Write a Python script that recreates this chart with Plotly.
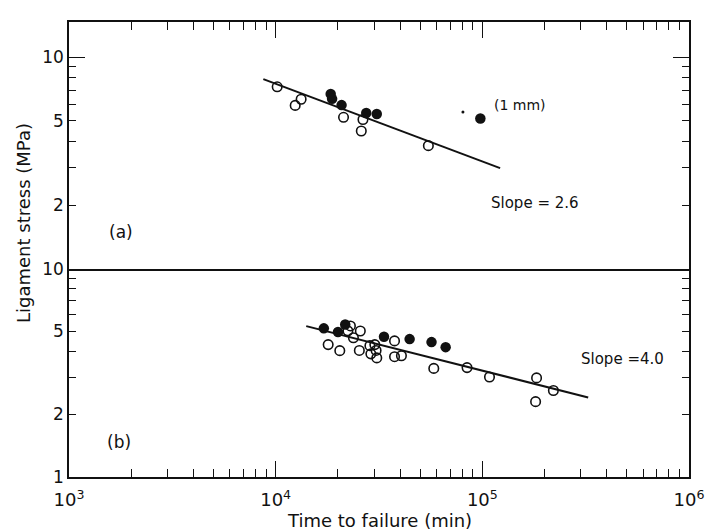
import numpy as np
import plotly.graph_objects as go

# ---------------- data ----------------
# Panel (a)
a_open_x = [10170, 12430, 13280, 21300, 26450, 25960, 54810]
a_open_y = [7.25, 5.92, 6.33, 5.20, 5.08, 4.48, 3.82]
a_fill_x = [18460, 18750, 20840, 27430, 30850, 97840]
a_fill_y = [6.71, 6.36, 5.94, 5.45, 5.39, 5.13]
a_stray_x = [80540]
a_stray_y = [5.51]
a_fit_x = [8715, 121900]
a_fit_y = [7.88, 2.99]

# Panel (b)
b_open_x = [23000, 22360, 25680, 23780, 17950, 20430, 25400, 28570, 30180, 28880,
            30610, 30850, 37600, 37600, 40600, 58220, 84330, 108300, 183000,
            181000, 220700]
b_open_y = [5.31, 5.03, 5.02, 4.66, 4.32, 4.04, 4.05, 4.27, 4.32, 3.90,
            4.05, 3.73, 4.50, 3.78, 3.82, 3.32, 3.35, 3.02, 2.99,
            2.30, 2.60]
b_fill_x = [17100, 20030, 21700, 33430, 44480, 56780, 66450]
b_fill_y = [5.17, 4.97, 5.40, 4.71, 4.59, 4.44, 4.20]
b_fit_x = [14060, 325200]
b_fit_y = [5.30, 2.41]

x_major = [1e3, 1e4, 1e5, 1e6]
x_major_text = ["10<sup>3</sup>", "10<sup>4</sup>", "10<sup>5</sup>", "10<sup>6</sup>"]
x_minor = [m * d for d in (1e3, 1e4, 1e5) for m in range(2, 10)]
yb_major = [1, 2, 5, 10]
yb_major_text = ["1", "2", "5", "10"]
ya_major = [2, 5, 10]
ya_major_text = ["2", "5", "10"]
y_minor = [3, 4, 6, 7, 8, 9]

FONT = "DejaVu Sans"
BLACK = "#111111"

fig = go.Figure()

def add_open(x, y, xa, ya):
    fig.add_trace(go.Scatter(x=x, y=y, xaxis=xa, yaxis=ya, mode="markers",
                             marker=dict(symbol="circle-open", size=9.5,
                                         color=BLACK, line=dict(width=1.6, color=BLACK)),
                             showlegend=False, hoverinfo="skip"))

def add_fill(x, y, xa, ya, size=10.5):
    fig.add_trace(go.Scatter(x=x, y=y, xaxis=xa, yaxis=ya, mode="markers",
                             marker=dict(symbol="circle", size=size, color=BLACK),
                             showlegend=False, hoverinfo="skip"))

def add_line(x, y, xa, ya):
    fig.add_trace(go.Scatter(x=x, y=y, xaxis=xa, yaxis=ya, mode="lines",
                             line=dict(color=BLACK, width=2),
                             showlegend=False, hoverinfo="skip"))

# panel (a) -> x2/y2
add_line(a_fit_x, a_fit_y, "x2", "y2")
add_open(a_open_x, a_open_y, "x2", "y2")
add_fill(a_fill_x, a_fill_y, "x2", "y2")
add_fill(a_stray_x, a_stray_y, "x2", "y2", size=3)
# hidden trace to carry the overlay axis for the long "10" tick
fig.add_trace(go.Scatter(x=a_fit_x, y=a_fit_y, xaxis="x2", yaxis="y3", mode="lines",
                         opacity=0, showlegend=False, hoverinfo="skip"))

# panel (b) -> x/y
add_line(b_fit_x, b_fit_y, "x", "y")
add_open(b_open_x, b_open_y, "x", "y")
add_fill(b_fill_x, b_fill_y, "x", "y")

split = 212 / 463

xcommon = dict(type="log", range=[3, 6], showgrid=False, zeroline=False,
               showline=True, linecolor=BLACK, linewidth=1.5,
               ticks="inside", ticklen=16, tickwidth=1.3, tickcolor=BLACK,
               tickmode="array", tickvals=x_major,
               minor=dict(tickmode="array", tickvals=x_minor, ticks="inside",
                          ticklen=8, tickwidth=1.2, tickcolor=BLACK, showgrid=False))

fig.update_layout(
    width=716, height=532,
    margin=dict(l=69, r=20, t=14, b=55),
    paper_bgcolor="white", plot_bgcolor="white",
    font=dict(family=FONT, color=BLACK, size=16),
    xaxis=dict(**xcommon, anchor="y", ticktext=x_major_text,
               tickfont=dict(size=18, family=FONT, color=BLACK), ticklabelstandoff=6),
    xaxis2=dict(**xcommon, anchor="y2", matches="x", side="top", mirror=True,
                showticklabels=False),
    yaxis=dict(type="log", range=[0, 1], domain=[0, split], anchor="x",
               showgrid=False, zeroline=False, showline=True, linecolor=BLACK,
               linewidth=1.5, mirror="ticks",
               ticks="inside", ticklen=7, tickwidth=1.3, tickcolor=BLACK,
               tickmode="array", tickvals=yb_major, ticktext=yb_major_text,
               tickfont=dict(size=17, family=FONT, color=BLACK),
               minor=dict(tickmode="array", tickvals=y_minor, ticks="inside",
                          ticklen=7, tickwidth=1.2, tickcolor=BLACK, showgrid=False)),
    yaxis2=dict(type="log", range=[0, 1.167], domain=[split, 1], anchor="x2",
                showgrid=False, zeroline=False, showline=True, linecolor=BLACK,
                linewidth=1.5, mirror="ticks",
                ticks="inside", ticklen=7, tickwidth=1.3, tickcolor=BLACK,
                tickmode="array", tickvals=ya_major, ticktext=ya_major_text,
                tickfont=dict(size=17, family=FONT, color=BLACK),
                minor=dict(tickmode="array", tickvals=y_minor, ticks="inside",
                           ticklen=7, tickwidth=1.2, tickcolor=BLACK, showgrid=False)),
    yaxis3=dict(type="log", range=[0, 1.167], overlaying="y2", anchor="x2",
                side="left", showgrid=False, zeroline=False, showline=False,
                mirror="ticks", ticks="inside", ticklen=16, tickwidth=1.3,
                tickcolor=BLACK, tickmode="array", tickvals=[10],
                showticklabels=False),
)

def ann(text, xref, yref, x, y, size=15):
    fig.add_annotation(text=text, xref=xref, yref=yref, x=x, y=y,
                       xanchor="center", yanchor="middle", showarrow=False,
                       font=dict(family=FONT, size=size, color=BLACK))

ann("(a)", "x2", "y2", np.log10(1791), np.log10(1.49), size=17)
ann("(b)", "x", "y", np.log10(1740), np.log10(1.47), size=17)
ann("Slope = 2.6", "x2", "y2", 5.253, 0.312)
ann("(1 mm)", "x2", "y2", 5.182, 0.772, size=14)
ann("Slope =4.0", "x", "y", 5.679, 0.566)

fig.add_annotation(text="Ligament stress (MPa)", xref="paper", yref="paper",
                   x=(23 - 69) / 627, y=(477 - 219) / 463, textangle=-90,
                   xanchor="center", yanchor="middle",
                   showarrow=False, font=dict(family=FONT, size=18, color=BLACK))
fig.add_annotation(text="Time to failure (min)", xref="paper", yref="paper",
                   x=(383 - 69) / 627, y=(477 - 521) / 463,
                   xanchor="center", yanchor="middle",
                   showarrow=False, font=dict(family=FONT, size=18, color=BLACK))

fig.write_html("out.html")
